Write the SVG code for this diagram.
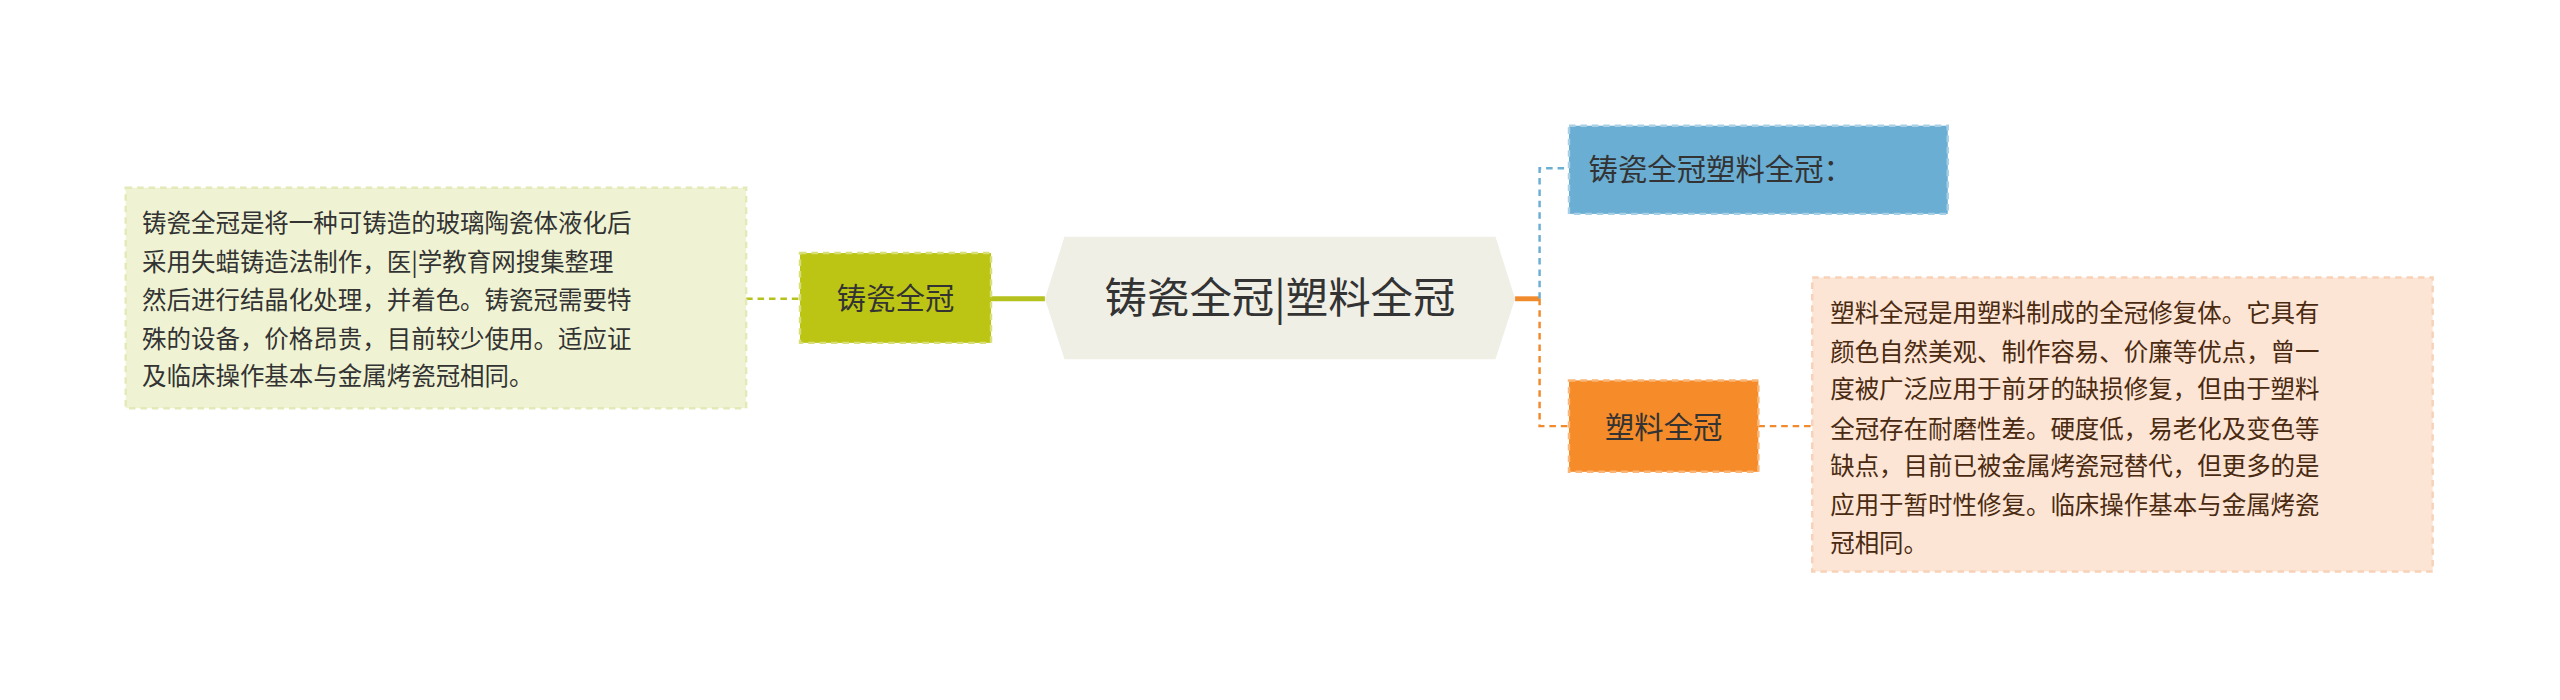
<svg xmlns="http://www.w3.org/2000/svg" width="2560" height="700" viewBox="0 0 2560 700">
<style>
text{font-family:"Noto Sans CJK SC","Liberation Sans",sans-serif}
.t{font-size:15px;fill:#333}
.tr{font-size:15px;fill:#4a2a10}
.n{font-size:18px;fill:#333}
.d{stroke-dasharray:4 3;stroke-width:1.5}
</style>
<rect width="2560" height="700" fill="#fff"/>
<g transform="scale(1.63265)">
<g id="connectors" fill="none">
<line x1="607" y1="183" x2="640" y2="183" stroke="#b5c21d" stroke-width="3"/>
<line x1="457" y1="183" x2="490" y2="183" stroke="#b5c21d" class="d"/>
<line x1="928" y1="183" x2="943" y2="183" stroke="#f08a2c" stroke-width="3"/>
<path d="M943 183 V103 H961" stroke="#6aaed3" class="d"/>
<path d="M943 183 V261 H961" stroke="#f08a2c" class="d"/>
<line x1="1077" y1="261" x2="1110" y2="261" stroke="#f08a2c" class="d"/>
</g>
<g id="center">
<polygon points="652,145 916,145 928,183 916,220 652,220 640,183" fill="#efefe6"/>
<text x="784" y="192" font-size="26" fill="#333" text-anchor="middle">铸瓷全冠|塑料全冠</text>
</g>
<g id="left-node">
<rect x="490" y="155" width="117" height="55" fill="#bcc414" stroke="#d8df7a" class="d"/>
<text x="548.5" y="189" class="n" text-anchor="middle">铸瓷全冠</text>
</g>
<g id="left-text">
<rect x="77" y="115" width="380" height="135" fill="#f0f3d3" stroke="#e4e9b8" class="d"/>
<text class="t"><tspan x="87" y="142">铸瓷全冠是将一种可铸造的玻璃陶瓷体液化后</tspan><tspan x="87" y="166">采用失蜡铸造法制作，医|学教育网搜集整理</tspan><tspan x="87" y="189">然后进行结晶化处理，并着色。铸瓷冠需要特</tspan><tspan x="87" y="213">殊的设备，价格昂贵，目前较少使用。适应证</tspan><tspan x="87" y="236">及临床操作基本与金属烤瓷冠相同。</tspan></text>
</g>
<g id="top-right">
<rect x="961" y="77" width="232" height="54" fill="#6aaed3" stroke="#a7cfe6" class="d"/>
<text x="973" y="110" class="n">铸瓷全冠塑料全冠：</text>
</g>
<g id="orange-node">
<rect x="961" y="233" width="116" height="56" fill="#f68b29" stroke="#f9b676" class="d"/>
<text x="1019" y="268" class="n" text-anchor="middle">塑料全冠</text>
</g>
<g id="right-text">
<rect x="1110" y="170" width="380" height="180" fill="#fce5d5" stroke="#f7d2b8" class="d"/>
<text class="tr"><tspan x="1121" y="197">塑料全冠是用塑料制成的全冠修复体。它具有</tspan><tspan x="1121" y="221">颜色自然美观、制作容易、价廉等优点，曾一</tspan><tspan x="1121" y="244">度被广泛应用于前牙的缺损修复，但由于塑料</tspan><tspan x="1121" y="268">全冠存在耐磨性差。硬度低，易老化及变色等</tspan><tspan x="1121" y="291">缺点，目前已被金属烤瓷冠替代，但更多的是</tspan><tspan x="1121" y="315">应用于暂时性修复。临床操作基本与金属烤瓷</tspan><tspan x="1121" y="338">冠相同。</tspan></text>
</g>
</g>
</svg>
